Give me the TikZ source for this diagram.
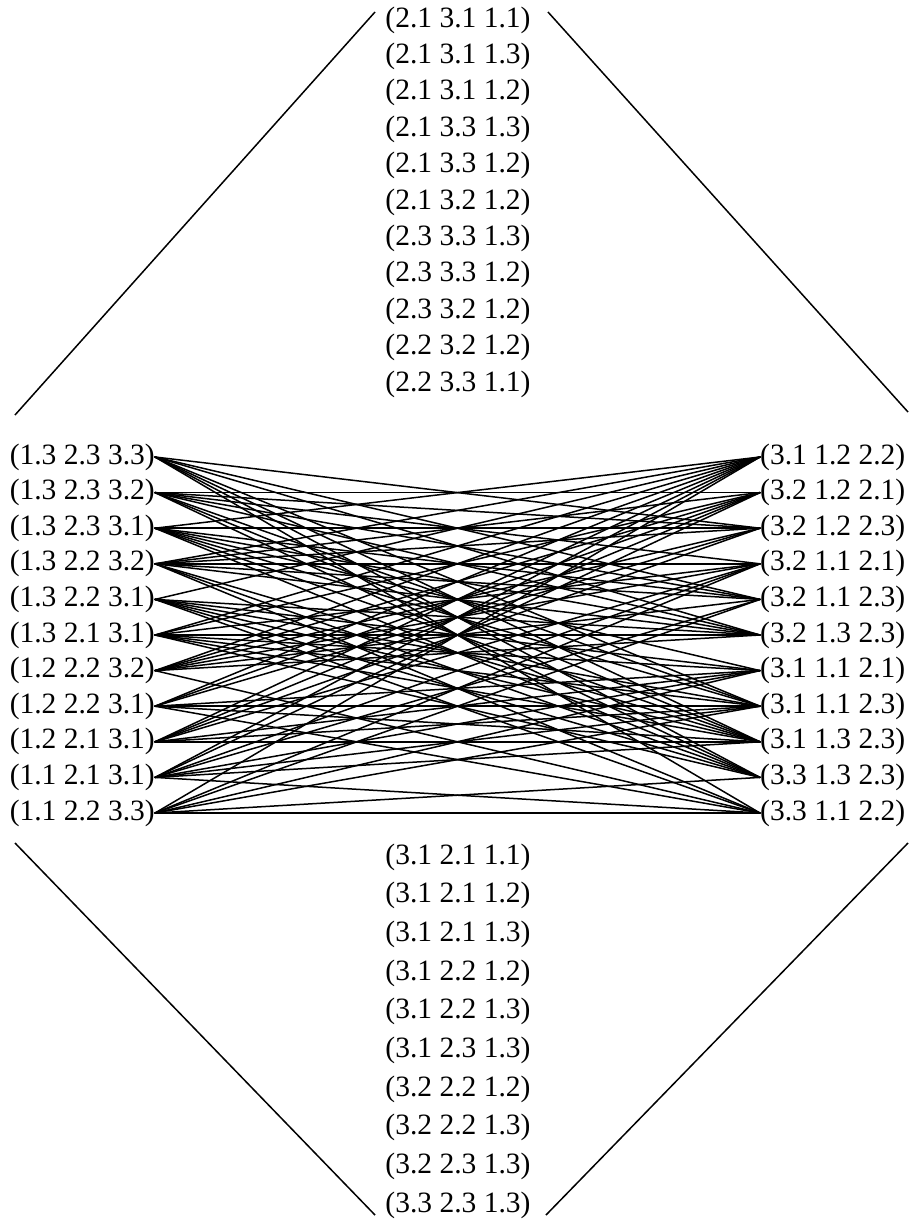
\documentclass[tikz,border=0pt]{standalone}
\usepackage{fontspec}
\setmainfont{Liberation Serif}
\begin{document}
\begin{tikzpicture}[x=1pt,y=-1pt,
  lab/.style={font=\fontsize{29.5}{32}\selectfont, inner sep=0pt},
  edge/.style={line width=1.5pt, line cap=round},
  frame/.style={line width=1.5pt}]
\useasboundingbox (0,0) rectangle (911,1226);
% top list
\foreach \t [count=\i] in {2.1 3.1 1.1,2.1 3.1 1.3,2.1 3.1 1.2,2.1 3.3 1.3,2.1 3.3 1.2,2.1 3.2 1.2,2.3 3.3 1.3,2.3 3.3 1.2,2.3 3.2 1.2,2.2 3.2 1.2,2.2 3.3 1.1}
  \node[lab] (T\i) at (458,{20+36.4*(\i-1)}) {(\t)};
% bottom list
\foreach \t [count=\i] in {3.1 2.1 1.1,3.1 2.1 1.2,3.1 2.1 1.3,3.1 2.2 1.2,3.1 2.2 1.3,3.1 2.3 1.3,3.2 2.2 1.2,3.2 2.2 1.3,3.2 2.3 1.3,3.3 2.3 1.3}
  \node[lab] (B\i) at (458,{857+38.67*(\i-1)}) {(\t)};
% left list
\foreach \t [count=\i] in {1.3 2.3 3.3,1.3 2.3 3.2,1.3 2.3 3.1,1.3 2.2 3.2,1.3 2.2 3.1,1.3 2.1 3.1,1.2 2.2 3.2,1.2 2.2 3.1,1.2 2.1 3.1,1.1 2.1 3.1,1.1 2.2 3.3}
  \node[lab, anchor=east] (L\i) at (155,{457+35.6*(\i-1)}) {(\t)};
% right list
\foreach \t [count=\i] in {3.1 1.2 2.2,3.2 1.2 2.1,3.2 1.2 2.3,3.2 1.1 2.1,3.2 1.1 2.3,3.2 1.3 2.3,3.1 1.1 2.1,3.1 1.1 2.3,3.1 1.3 2.3,3.3 1.3 2.3,3.3 1.1 2.2}
  \node[lab, anchor=west] (R\i) at (760,{457+35.6*(\i-1)}) {(\t)};
% edges
\foreach \l/\rs in {1/{3,5,6,8,9,10,11},2/{2,3,4,5,6,8,9,10},3/{1,3,5,6,7,8,9,10},4/{1,2,3,4,5,6,9,10,11},5/{1,6,7,8,9,10,11},6/{1,2,4,6,7,8,9,10},7/{1,2,3,4,5,6,11},8/{1,2,3,7,8,9,11},9/{1,2,3,4,7,8,9},10/{1,2,4,5,7,8,9,11},11/{1,4,5,7,8,10,11}}
  \foreach \r in \rs
    \draw[edge] (L\l.east) -- (R\r.west);
% diagonal frame lines
\coordinate (tl1) at (15,415);  \coordinate (tl2) at (375,12);
\coordinate (tr1) at (548,12);  \coordinate (tr2) at (908,412);
\coordinate (bl1) at (15,843);  \coordinate (bl2) at (375,1215);
\coordinate (br1) at (546,1215); \coordinate (br2) at (908,843);
\draw[frame] (tl1) -- (tl2);
\draw[frame] (tr1) -- (tr2);
\draw[frame] (bl1) -- (bl2);
\draw[frame] (br1) -- (br2);
\end{tikzpicture}
\end{document}
